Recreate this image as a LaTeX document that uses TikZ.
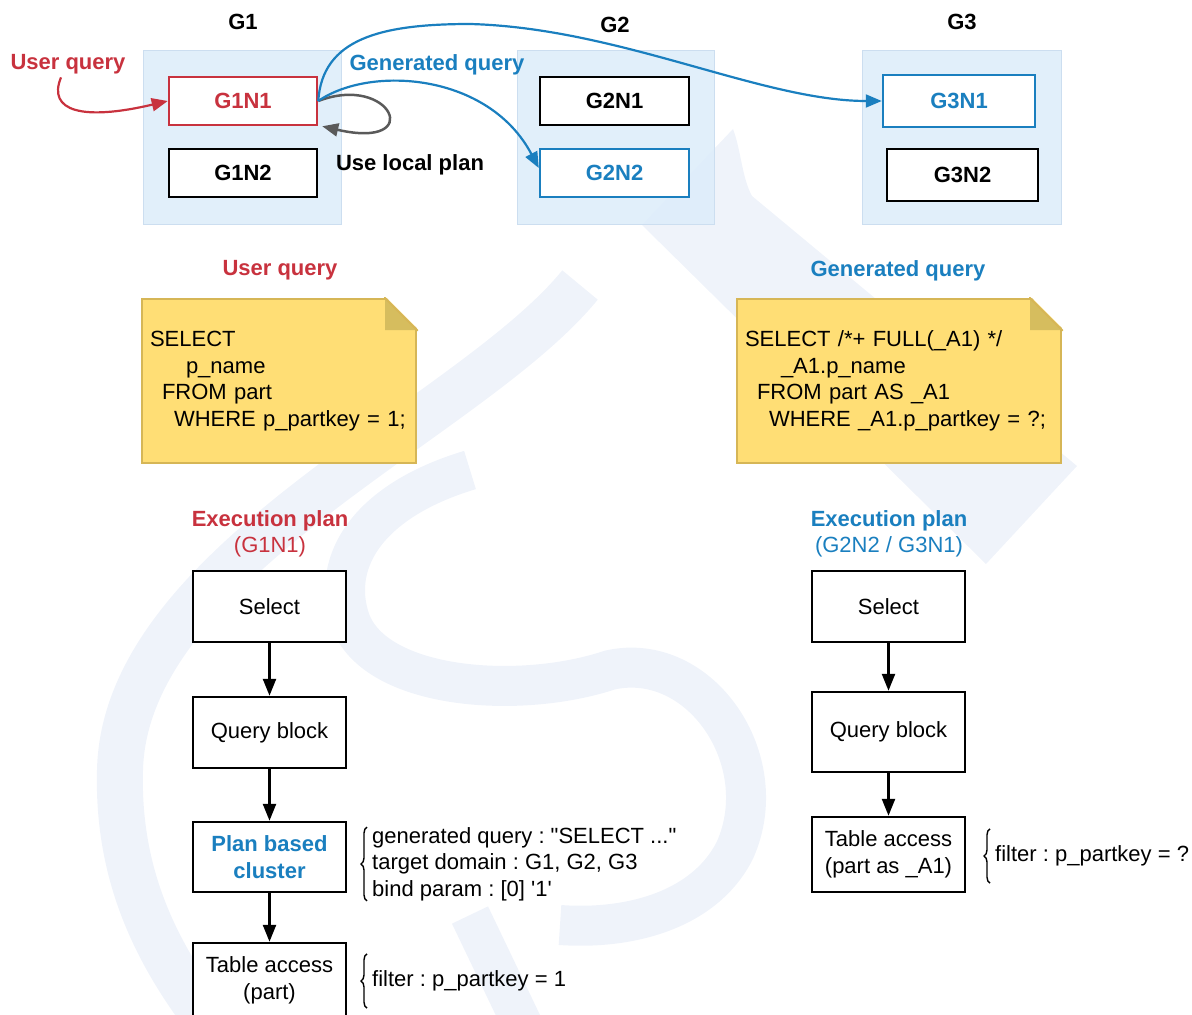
\documentclass[tikz,border=0pt]{standalone}
\usepackage{fontspec}
\setmainfont{Liberation Sans}
\usetikzlibrary{positioning,arrows.meta,decorations.pathreplacing}
\definecolor{qred}{RGB}{200,50,62}
\definecolor{qblue}{RGB}{26,127,191}
\definecolor{grpfill}{RGB}{222,237,250}
\definecolor{grpline}{RGB}{204,222,240}
\definecolor{notefill}{RGB}{255,222,117}
\definecolor{noteline}{RGB}{214,182,86}
\definecolor{notefold}{RGB}{214,189,94}
\definecolor{loopgray}{RGB}{90,90,90}
\definecolor{wmark}{RGB}{239,243,250}
\frenchspacing

\begin{document}
\begin{tikzpicture}[x=1pt, y=-1pt,
  font=\fontsize{22}{26.5}\selectfont,
  grp/.style={draw=grpline, line width=1pt, fill=grpfill, fill opacity=.9,
              minimum width=198pt, minimum height=174pt},
  nd/.style={draw, line width=2.5pt, fill=white, minimum width=149pt,
             minimum height=48pt, font=\fontsize{22}{26.5}\selectfont\bfseries},
  ttl/.style={font=\fontsize{22}{26.5}\selectfont\bfseries},
  note/.style={draw=noteline, line width=2pt, fill=notefill, minimum height=164pt,
               align=left, inner xsep=8pt},
  pbox/.style={draw, line width=2.5pt, fill=white, minimum width=153pt, align=center},
  parr/.style={-{Triangle[length=17pt,width=13pt]}, line width=2.5pt},
  qarr/.style={-{Triangle[length=16pt,width=13pt]}, line width=2.2pt},
  brc/.style={decorate, decoration={brace, amplitude=6pt}, line width=1.4pt},
  info/.style={anchor=west, align=left, inner sep=0pt, minimum height=54pt}
]
\useasboundingbox (0,0) rectangle (1192,1015);
% faint logo in the back
\fill[wmark] (733,129) .. controls (741,150) and (742,178) .. (752,196)
  -- (1077,466) -- (986,564) -- (642,225) -- cycle;
\draw[wmark, line width=46pt] (580,285) .. controls (470,420) and (125,560) .. (120,770)
  .. controls (117,880) and (160,960) .. (215,1030);
\draw[wmark, line width=40pt] (470,470) .. controls (370,500) and (330,560) .. (350,620)
  .. controls (375,690) and (520,700) .. (610,670)
  .. controls (700,650) and (775,760) .. (735,850)
  .. controls (705,910) and (630,930) .. (560,925);
\draw[wmark, line width=40pt] (470,915) -- (525,1030);

% Top: groups and nodes
\node[grp] (g1) at (242,137) {};
\node[grp, minimum width=197pt] (g2) at (615.5,137) {};
\node[grp, minimum width=199pt] (g3) at (961.5,137) {};
\node[ttl] (g1t) at (243,22) {G1};
\node[ttl] (g2t) at (615,25) {G2};
\node[ttl] (g3t) at (962,22) {G3};

\node[nd, draw=qred, text=qred, minimum width=148pt] (g1n1) at (243,101) {G1N1};
\node[nd, minimum width=148pt] (g1n2) at (243,173) {G1N2};
\node[nd] (g2n1) at (614.5,101) {G2N1};
\node[nd, draw=qblue, text=qblue] (g2n2) at (614.5,173) {G2N2};
\node[nd, draw=qblue, text=qblue, minimum width=152pt, minimum height=52pt] (g3n1) at (959,101) {G3N1};
\node[nd, minimum width=151pt, minimum height=52pt] (g3n2) at (962.5,175) {G3N2};

\node[ttl, text=qred] (uql) at (68,64) {User query};
\node[ttl, text=qblue] (gql) at (437,65) {Generated query};
\node[ttl] (lpl) at (410,165) {Use local plan};
\coordinate (gqtop) at (470,24);

\draw[qarr, qred] ([xshift=-7pt]uql.south) .. controls +(-14,34) and +(-85,20) .. (g1n1.west);
\draw[qarr, loopgray, line width=2.5pt] (g1n1.east) .. controls +(73,-28) and +(104,24)
  .. ([xshift=4pt]g1n1.south east);
\draw[qarr, qblue] (g1n1.east) .. controls +(52,-36) and +(-50,-95) .. ([yshift=5pt]g2n2.west);
\draw[qarr, qblue] (g1n1.east) .. controls +(4,-62) and +(-90,0) .. (gqtop)
  .. controls +(150,4) and +(-120,0) .. (g3n1.west);

% Middle: query notes
\node[ttl, text=qred] (uqt) at (280,270) {User query};
\node[note, text width=258pt] (uqn) at (279,381)
  {SELECT\\\hspace*{36pt}p\_name\\\hspace*{12pt}FROM part\\\hspace*{24pt}WHERE p\_partkey = 1;};
\fill[white] ([xshift=-32pt,yshift=2pt]uqn.north east) -- ([xshift=2pt,yshift=2pt]uqn.north east)
  -- ([xshift=2pt,yshift=-32pt]uqn.north east) -- cycle;
\fill[notefold] ([xshift=-32pt]uqn.north east) -- ([xshift=-32pt,yshift=-32pt]uqn.north east)
  -- ([yshift=-32pt]uqn.north east) -- cycle;
\draw[noteline, line width=2pt] ([xshift=-33pt]uqn.north east) -- ([xshift=-32pt]uqn.north east)
  -- ([yshift=-32pt]uqn.north east) -- ([yshift=-33pt]uqn.north east);

\node[ttl, text=qblue] (gqt) at (898,271) {Generated query};
\node[note, text width=308pt] (gqn) at (899,381)
  {SELECT /*+ FULL(\_A1) */\\\hspace*{36pt}\_A1.p\_name\\\hspace*{12pt}FROM part AS \_A1\\
   \hspace*{24pt}WHERE \_A1.p\_partkey = ?;};
\fill[white] ([xshift=-32pt,yshift=2pt]gqn.north east) -- ([xshift=2pt,yshift=2pt]gqn.north east)
  -- ([xshift=2pt,yshift=-32pt]gqn.north east) -- cycle;
\fill[notefold] ([xshift=-32pt]gqn.north east) -- ([xshift=-32pt,yshift=-32pt]gqn.north east)
  -- ([yshift=-32pt]gqn.north east) -- cycle;
\draw[noteline, line width=2pt] ([xshift=-33pt]gqn.north east) -- ([xshift=-32pt]gqn.north east)
  -- ([yshift=-32pt]gqn.north east) -- ([yshift=-33pt]gqn.north east);

% Bottom left: plan of G1N1
\node[align=center, text=qred] (ep1) at (270,534) {\textbf{Execution plan}\\(G1N1)};
\node[pbox, minimum height=71pt] (sel1) at (269.5,606.5) {Select};
\node[pbox, minimum height=71pt] (qb1) at (269.5,732.5) {Query block};
\node[pbox, minimum height=70pt, text=qblue, font=\fontsize{22}{26.5}\selectfont\bfseries]
  (pbc1) at (269.5,857) {Plan based\\cluster};
\node[pbox, minimum height=75pt] (ta1) at (269.5,980.5) {Table access\\(part)};
\draw[parr] (sel1) -- (qb1);
\draw[parr] (qb1) -- (pbc1);
\draw[parr] (pbc1) -- (ta1);
\node[info, minimum height=69pt] (cinfo) at (372,864)
  {generated query : \textquotedbl SELECT ...\textquotedbl\\target domain : G1, G2, G3\\
   bind param : [0] \textquotesingle 1\textquotesingle};
\draw[brc] ([xshift=-5pt]cinfo.south west) -- ([xshift=-5pt]cinfo.north west);
\node[info] (fil1) at (372,981) {filter : p\_partkey = 1};
\draw[brc] ([xshift=-5pt]fil1.south west) -- ([xshift=-5pt]fil1.north west);

% Bottom right: plan of G2N2 / G3N1
\node[align=center, text=qblue] (ep2) at (889,534) {\textbf{Execution plan}\\(G2N2 / G3N1)};
\node[pbox, minimum height=71pt] (sel2) at (888.5,606.5) {Select};
\node[pbox, minimum height=80pt] (qb2) at (888.5,732) {Query block};
\node[pbox, minimum height=75pt] (ta2) at (888.5,854.5) {Table access\\(part as \_A1)};
\draw[parr] (sel2) -- (qb2);
\draw[parr] (qb2) -- (ta2);
\node[info, minimum height=54pt] (fil2) at (995,856) {filter : p\_partkey = ?};
\draw[brc] ([xshift=-5pt]fil2.south west) -- ([xshift=-5pt]fil2.north west);
\end{tikzpicture}
\end{document}
